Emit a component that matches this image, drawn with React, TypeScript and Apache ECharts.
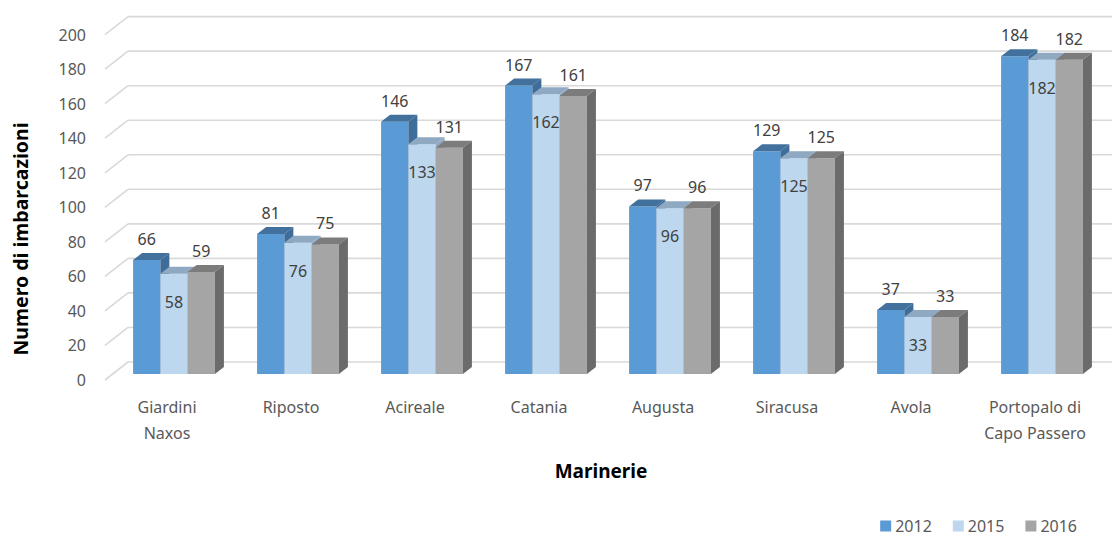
import React, { useEffect, useRef } from "react";
import * as echarts from "echarts";

const categories = [
  "Giardini\nNaxos",
  "Riposto",
  "Acireale",
  "Catania",
  "Augusta",
  "Siracusa",
  "Avola",
  "Portopalo di\nCapo Passero",
];
const seriesNames = ["2012", "2015", "2016"];
const values2012 = [66, 81, 146, 167, 97, 129, 37, 184];
const values2015 = [58, 76, 133, 162, 96, 125, 33, 182];
const values2016 = [59, 75, 131, 161, 96, 125, 33, 182];
const yTicks = [0, 20, 40, 60, 80, 100, 120, 140, 160, 180, 200];
const yAxisTitle = "Numero di imbarcazioni";
const xAxisTitle = "Marinerie";

const FONT = "'Noto Sans', 'Open Sans', sans-serif";
const GRID_LEFT = 105;
const GRID_RIGHT = 15;
const GRID_TOP = 34.6;
const GRID_BOTTOM = 156;
const WALL_DX = 23;
const WALL_DY = -18;
const BAR_OX = 7;
const BAR_OY = -6;
const DEPTH_DX = 9;
const DEPTH_DY = -7;

const faceColors = [
  { front: "#5B9BD5", top: "#41719C", side: "#3E6D99" },
  { front: "#BDD7EE", top: "#8EA9C1", side: "#8EA9C1" },
  { front: "#A5A5A5", top: "#7C7C7C", side: "#6B6B6B" },
];

function makeBarSeries(idx: number, values: number[]) {
  const c = faceColors[idx];
  return {
    type: "custom",
    name: seriesNames[idx],
    itemStyle: { color: c.front },
    data: values.map((v, i) => [i, v]),
    renderItem: (params: any, api: any) => {
      const cat = api.value(0);
      const val = api.value(1);
      const band = api.size([1, 0])[0];
      const bw = band * 0.22;
      const pTop = api.coord([cat, val]);
      const pBase = api.coord([cat, 0]);
      const x0 = pTop[0] - 1.5 * bw + idx * bw + BAR_OX;
      const yt = pTop[1] + BAR_OY;
      const yb = pBase[1] + BAR_OY;
      const children: any[] = [
        {
          type: "rect",
          shape: { x: x0, y: yt, width: bw, height: yb - yt },
          style: { fill: c.front },
        },
        {
          type: "polygon",
          shape: {
            points: [
              [x0, yt],
              [x0 + bw, yt],
              [x0 + bw + DEPTH_DX, yt + DEPTH_DY],
              [x0 + DEPTH_DX, yt + DEPTH_DY],
            ],
          },
          style: { fill: c.top },
        },
        {
          type: "polygon",
          shape: {
            points: [
              [x0 + bw, yt],
              [x0 + bw + DEPTH_DX, yt + DEPTH_DY],
              [x0 + bw + DEPTH_DX, yb + DEPTH_DY],
              [x0 + bw, yb],
            ],
          },
          style: { fill: c.side },
        },
        {
          type: "text",
          style: {
            text: String(val),
            x: x0 + bw / 2,
            y: idx === 1 ? yt + 28 : yt - 21,
            align: "center",
            verticalAlign: "middle",
            fill: "#404040",
            font: `16px ${FONT}`,
          },
          z2: 10,
        },
      ];
      return { type: "group", children };
    },
  };
}

const wallSeries = {
  type: "custom",
  name: "walls",
  silent: true,
  data: [[0, 0]],
  renderItem: (params: any, api: any) => {
    const children: any[] = [];
    const right = params.coordSys.x + params.coordSys.width + GRID_RIGHT;
    yTicks.forEach((t) => {
      const p = api.coord([0, t]);
      const y = p[1];
      children.push({
        type: "line",
        shape: { x1: GRID_LEFT, y1: y, x2: GRID_LEFT + WALL_DX, y2: y + WALL_DY },
        style: { stroke: "#D9D9D9", lineWidth: 1.6 },
      });
      children.push({
        type: "line",
        shape: { x1: GRID_LEFT + WALL_DX, y1: y + WALL_DY, x2: right, y2: y + WALL_DY },
        style: { stroke: "#D9D9D9", lineWidth: 1.6 },
      });
    });
    return { type: "group", children };
  },
};

export default function App() {
  const ref = useRef<HTMLDivElement>(null);
  useEffect(() => {
    if (!ref.current) return;
    const chart = echarts.init(ref.current, undefined, { renderer: "svg" });
    chart.setOption({
      animation: false,
      backgroundColor: "#FFFFFF",
      textStyle: { fontFamily: FONT },
      grid: { left: GRID_LEFT, right: GRID_RIGHT, top: GRID_TOP, bottom: GRID_BOTTOM },
      legend: {
        data: seriesNames,
        right: 35,
        top: 517,
        padding: 0,
        icon: "rect",
        itemWidth: 11,
        itemHeight: 11,
        itemGap: 21,
        textStyle: {
          fontSize: 16,
          lineHeight: 18,
          color: "#595959",
          fontFamily: FONT,
          padding: [0, 0, 0, -1],
        },
      },
      graphic: [
        {
          type: "text",
          x: 20,
          y: 239,
          rotation: Math.PI / 2,
          style: {
            text: yAxisTitle,
            align: "center",
            verticalAlign: "middle",
            fill: "#000000",
            font: `bold 19.5px ${FONT}`,
          },
        },
      ],
      xAxis: {
        type: "category",
        data: categories,
        axisLine: { show: false },
        axisTick: { show: false },
        splitLine: { show: false },
        axisLabel: {
          color: "#595959",
          fontSize: 16,
          lineHeight: 26,
          margin: 14,
          fontFamily: FONT,
          interval: 0,
        },
        name: xAxisTitle,
        nameLocation: "middle",
        nameGap: 81,
        nameTextStyle: { fontSize: 19, fontWeight: "bold", color: "#000000", fontFamily: FONT },
      },
      yAxis: {
        type: "value",
        min: 0,
        max: 200,
        interval: 20,
        axisLine: { show: false },
        axisTick: { show: false },
        splitLine: { show: false },
        axisLabel: { color: "#595959", fontSize: 16, margin: 19, fontFamily: FONT },
      },
      series: [
        wallSeries,
        makeBarSeries(0, values2012),
        makeBarSeries(1, values2015),
        makeBarSeries(2, values2016),
      ],
    });
    return () => chart.dispose();
  }, []);
  return (
    <div
      ref={ref}
      style={{ position: "fixed", left: 0, top: 0, width: 1112, height: 536 }}
    />
  );
}
